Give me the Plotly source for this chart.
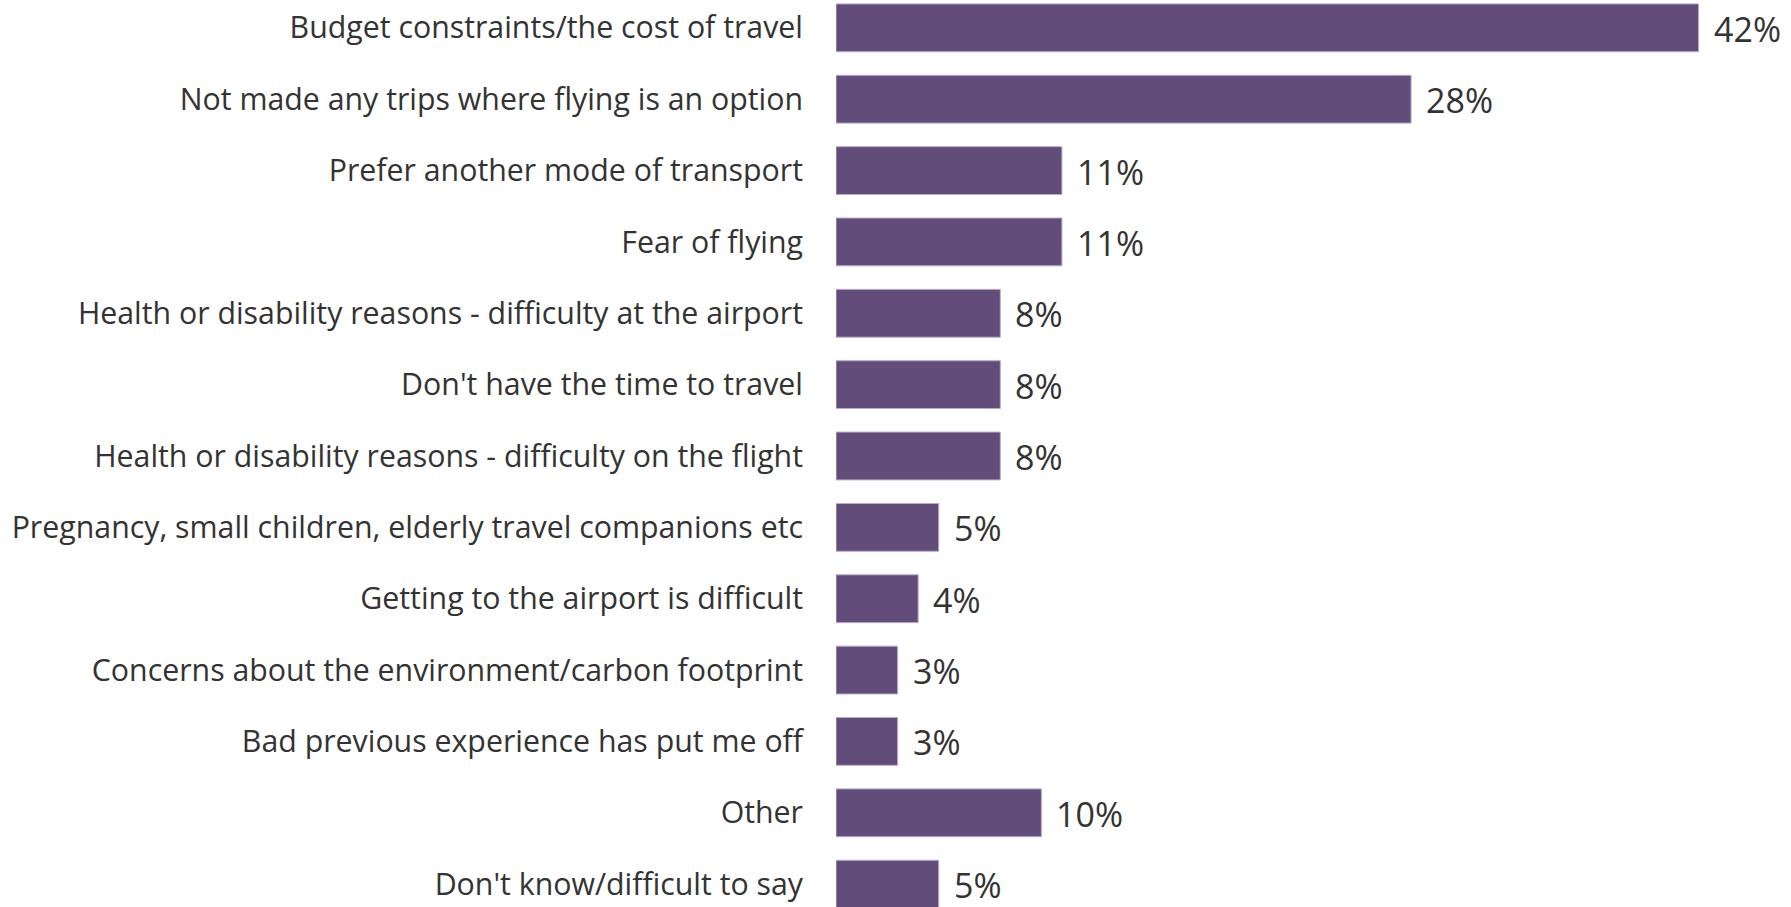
import plotly.graph_objects as go

reasons = [
    "Budget constraints/the cost of travel",
    "Not made any trips where flying is an option",
    "Prefer another mode of transport",
    "Fear of flying",
    "Health or disability reasons - difficulty at the airport",
    "Don't have the time to travel",
    "Health or disability reasons - difficulty on the flight",
    "Pregnancy, small children, elderly travel companions etc",
    "Getting to the airport is difficult",
    "Concerns about the environment/carbon footprint",
    "Bad previous experience has put me off",
    "Other",
    "Don't know/difficult to say",
]
shares = [42, 28, 11, 11, 8, 8, 8, 5, 4, 3, 3, 10, 5]
share_labels = [f"{v}%" for v in shares]

BAR_COLOR = "#624C79"
TEXT_COLOR = "#333333"
FONT = "Open Sans"

fig = go.Figure(
    go.Bar(
        x=shares,
        y=reasons,
        orientation="h",
        marker=dict(color=BAR_COLOR, line=dict(color="#BBAACB", width=1)),
        hoverinfo="skip",
    )
)

for reason, value, label in zip(reasons, shares, share_labels):
    fig.add_annotation(
        x=value, y=reason, text=label, showarrow=False,
        xanchor="left", yanchor="middle", xshift=13, yshift=-1,
        font=dict(family=FONT, size=34, color=TEXT_COLOR),
    )

fig.update_layout(
    width=1791, height=907,
    margin=dict(l=836, r=0, t=0, b=0),
    paper_bgcolor="white", plot_bgcolor="white",
    bargap=0.33,
    showlegend=False,
    font=dict(family=FONT, color=TEXT_COLOR),
)
fig.update_xaxes(visible=False, range=[0, 46.5])
fig.update_yaxes(
    range=[12.32, -0.39],
    showgrid=False, zeroline=False, showline=False,
    ticks="", ticklabelstandoff=32,
    tickfont=dict(family=FONT, size=30.3, color=TEXT_COLOR),
)

fig.write_html("out.html")
